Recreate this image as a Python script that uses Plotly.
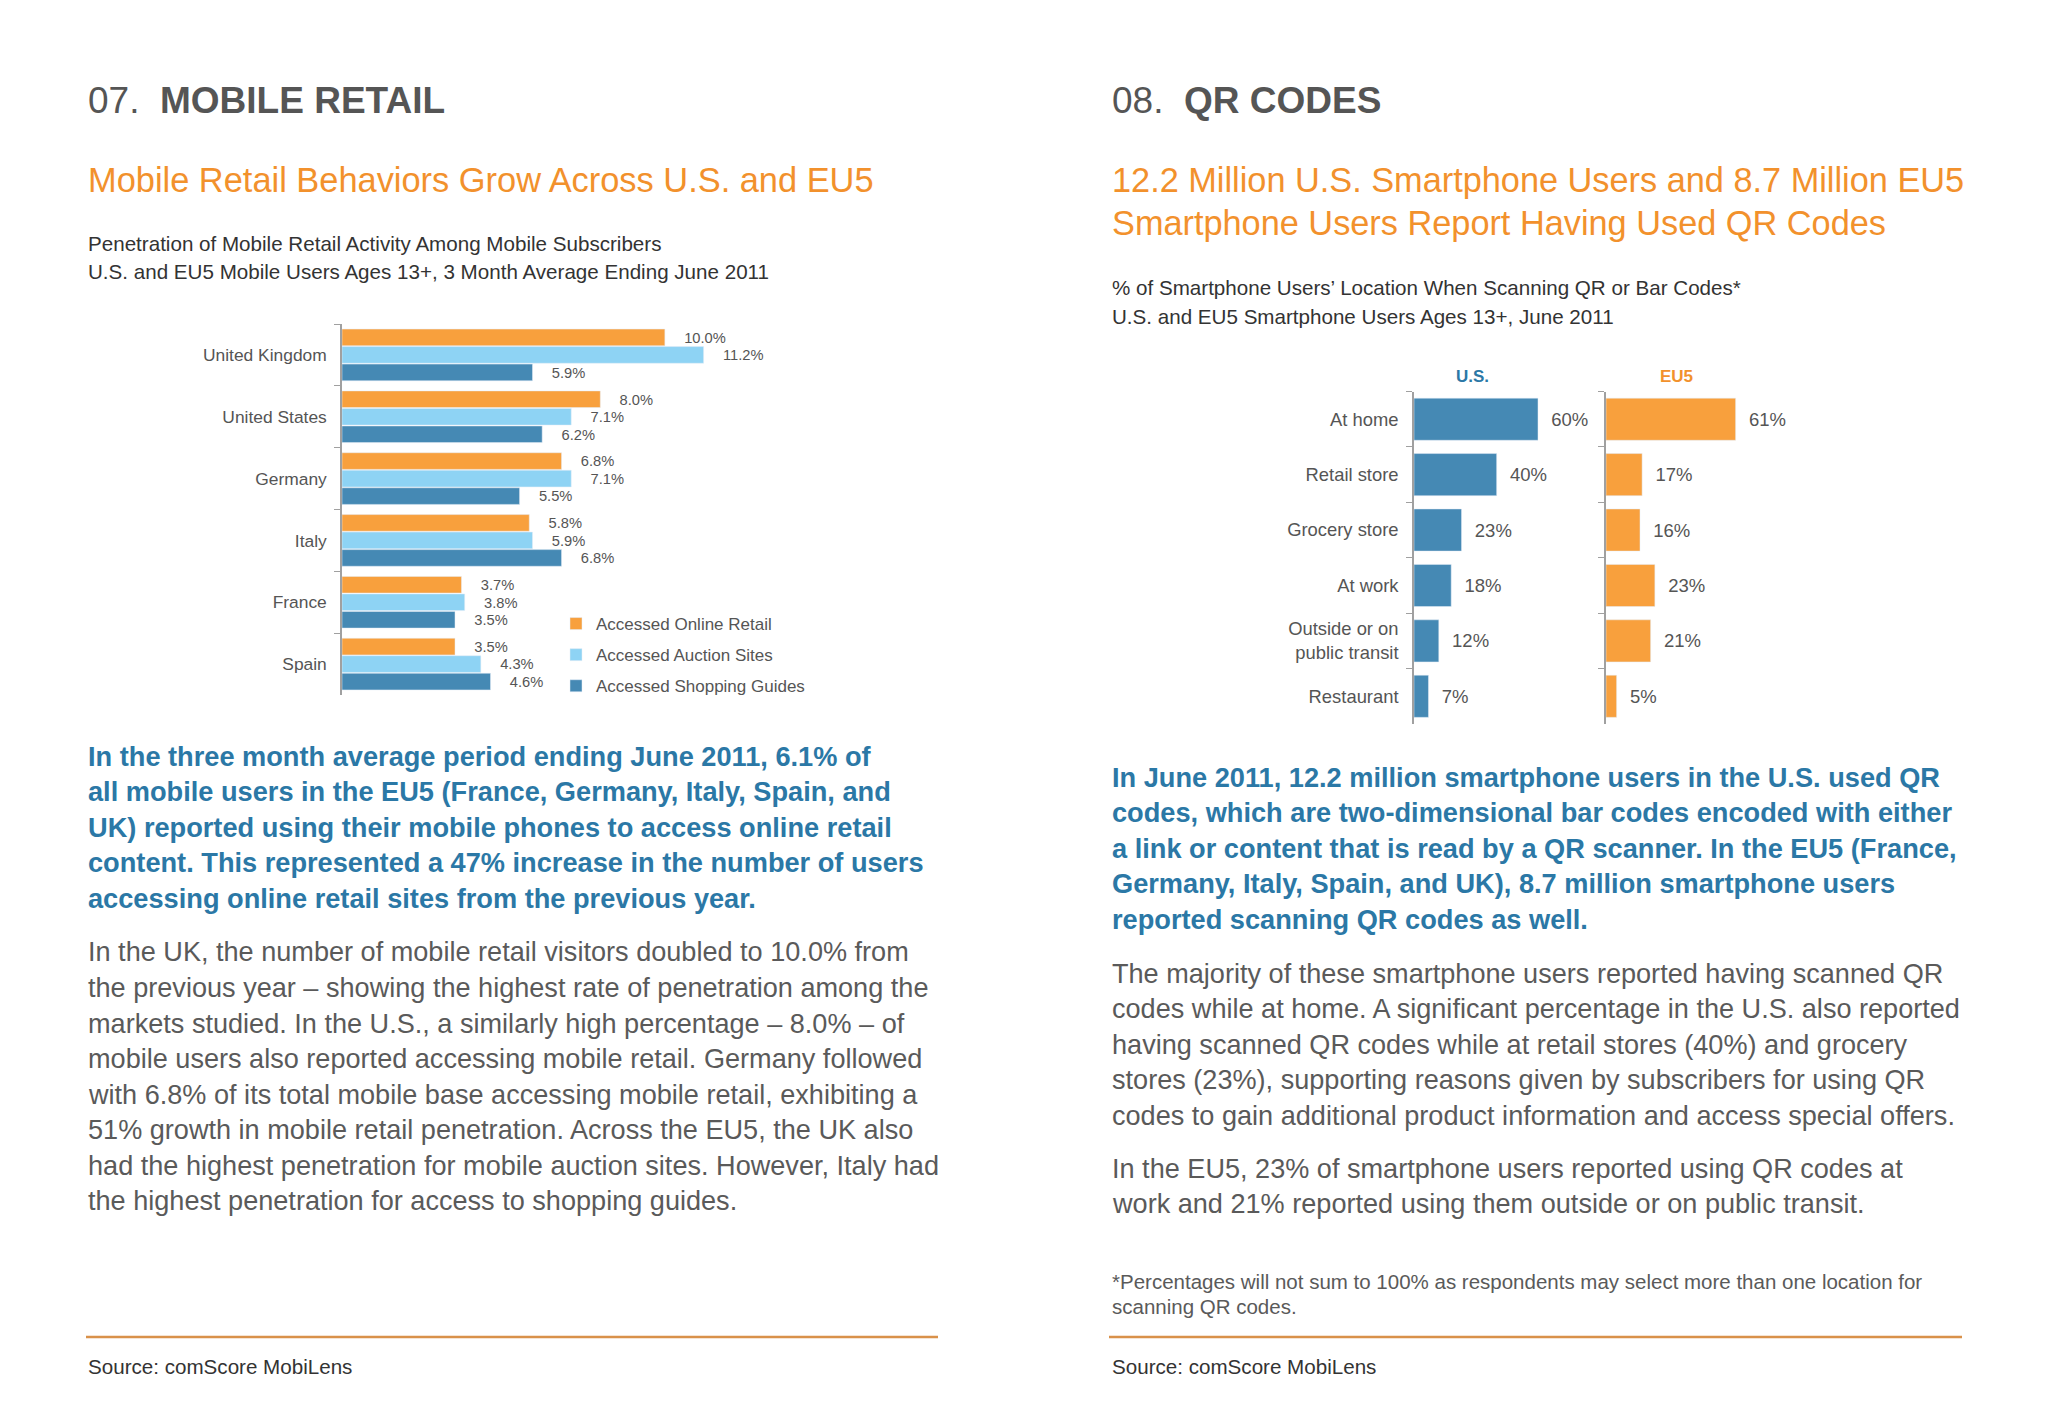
import plotly.graph_objects as go

# page is 2048x1408; the html body has an 8px margin, so the figure is 16px smaller
OFF = 8
FW, FH = 2032, 1392

# ---------------- data ----------------
countries = ["United Kingdom", "United States", "Germany", "Italy", "France", "Spain"]
online_retail = [10.0, 8.0, 6.8, 5.8, 3.7, 3.5]
auction_sites = [11.2, 7.1, 7.1, 5.9, 3.8, 4.3]
shopping_guides = [5.9, 6.2, 5.5, 6.8, 3.5, 4.6]
series_names = ["Accessed Online Retail", "Accessed Auction Sites", "Accessed Shopping Guides"]

locations = ["At home", "Retail store", "Grocery store", "At work",
             "Outside or on<br>public transit", "Restaurant"]
us_pct = [60, 40, 23, 18, 12, 7]
eu5_pct = [61, 17, 16, 23, 21, 5]

# ---------------- style ----------------
FONT = "Liberation Sans"
ORANGE = "#F8A03D"
ORANGE_TXT = "#F2912C"
LBLUE = "#8ED3F4"
DBLUE = "#4589B4"
BLUE_TXT = "#2B78A6"
GRAY = "#555555"
BODY = "#5A5A5A"
AX = "#A0A0A0"


def px(x):
    return (x - OFF) / FW


def py(y):
    return 1 - (y - OFF) / FH


fig = go.Figure()

# chart 1 : grouped horizontal bars
for name, vals, col in zip(series_names, [online_retail, auction_sites, shopping_guides],
                           [ORANGE, LBLUE, DBLUE]):
    fig.add_trace(go.Bar(
        y=countries, x=vals, orientation="h", name=name, marker_color=col,
        text=[f"{v:.1f}%" for v in vals], textposition="outside",
        texttemplate="    %{text}",
        textfont=dict(family=FONT, size=15, color=GRAY), cliponaxis=False,
        xaxis="x", yaxis="y", legendgroup=name,
    ))

# chart 2 : U.S. and EU5
fig.add_trace(go.Bar(
    y=locations, x=us_pct, orientation="h", marker_color=DBLUE, showlegend=False,
    text=[f"{v}%" for v in us_pct], textposition="outside", texttemplate="  %{text}",
    textfont=dict(family=FONT, size=18.5, color=GRAY), cliponaxis=False,
    xaxis="x2", yaxis="y2", width=0.76,
))
fig.add_trace(go.Bar(
    y=locations, x=eu5_pct, orientation="h", marker_color=ORANGE, showlegend=False,
    text=[f"{v}%" for v in eu5_pct], textposition="outside", texttemplate="  %{text}",
    textfont=dict(family=FONT, size=18.5, color=GRAY), cliponaxis=False,
    xaxis="x3", yaxis="y3", width=0.76,
))

hidden_x = dict(showgrid=False, zeroline=False, showticklabels=False, showline=False, ticks="")
cat_y = dict(autorange="reversed", showgrid=False, zeroline=False, showline=True,
             linecolor=AX, linewidth=1.5, ticks="outside", tickson="boundaries",
             ticklen=6, tickcolor=AX)

fig.update_layout(
    width=FW, height=FH, margin=dict(l=0, r=0, t=0, b=0),
    paper_bgcolor="white", plot_bgcolor="rgba(0,0,0,0)",
    barmode="group", bargap=0.15, bargroupgap=0.05,
    font=dict(family=FONT, color=GRAY),
    xaxis=dict(domain=[px(342), px(794)], range=[0, 14], anchor="y", **hidden_x),
    yaxis=dict(domain=[py(695), py(324)], anchor="x", ticklabelstandoff=10,
               tickfont=dict(family=FONT, size=17.4, color=GRAY), **cat_y),
    xaxis2=dict(domain=[px(1414), px(1600)], range=[0, 90], anchor="y2", **hidden_x),
    yaxis2=dict(domain=[py(724), py(391.5)], anchor="x2", ticklabelstandoff=10,
                tickfont=dict(family=FONT, size=18.4, color=GRAY), **cat_y),
    xaxis3=dict(domain=[px(1606), px(1793)], range=[0, 88], anchor="y3", **hidden_x),
    yaxis3=dict(domain=[py(724), py(391.5)], anchor="x3", showticklabels=False, **cat_y),
    legend=dict(x=px(556), y=py(606), xanchor="left", yanchor="top",
                font=dict(family=FONT, size=17, color=GRAY), bgcolor="rgba(0,0,0,0)",
                tracegroupgap=6, itemwidth=30),
)

annotations = []


def text(x, y, s, size, color, bold=False, anchor="left"):
    annotations.append(dict(
        x=px(x), y=py(y), xref="paper", yref="paper", xanchor=anchor, yanchor="middle",
        text=f"<b>{s}</b>" if bold else s, showarrow=False,
        font=dict(family=FONT, size=size, color=color)))


def para(x, y0, lines, size, color, bold=False, step=35.5):
    for i, ln in enumerate(lines):
        text(x, y0 + i * step, ln, size, color, bold)


# headings
text(86, 101, "07.  <b>MOBILE RETAIL</b>", 37, GRAY)
text(1110, 101, "08.  <b>QR CODES</b>", 37, GRAY)
text(86, 180, "Mobile Retail Behaviors Grow Across U.S. and EU5", 34.4, ORANGE_TXT)
para(1110, 180, ["12.2 Million U.S. Smartphone Users and 8.7 Million EU5",
                 "Smartphone Users Report Having Used QR Codes"], 34.3, ORANGE_TXT, step=43)
para(86, 243, ["Penetration of Mobile Retail Activity Among Mobile Subscribers",
               "U.S. and EU5 Mobile Users Ages 13+, 3 Month Average Ending June 2011"],
     20.6, "#333333", step=28.5)
para(1110, 287, ["% of Smartphone Users’ Location When Scanning QR or Bar Codes*",
                 "U.S. and EU5 Smartphone Users Ages 13+, June 2011"], 20.6, "#333333", step=29)

text(1472, 376, "U.S.", 17, BLUE_TXT, bold=True, anchor="center")
text(1676, 376, "EU5", 17, ORANGE_TXT, bold=True, anchor="center")

para(86, 756, ["In the three month average period ending June 2011, 6.1% of",
               "all mobile users in the EU5 (France, Germany, Italy, Spain, and",
               "UK) reported using their mobile phones to access online retail",
               "content. This represented a 47% increase in the number of users",
               "accessing online retail sites from the previous year."],
     27.2, BLUE_TXT, bold=True)
para(86, 952, ["In the UK, the number of mobile retail visitors doubled to 10.0% from",
               "the previous year – showing the highest rate of penetration among the",
               "markets studied. In the U.S., a similarly high percentage – 8.0% – of",
               "mobile users also reported accessing mobile retail. Germany followed",
               "with 6.8% of its total mobile base accessing mobile retail, exhibiting a",
               "51% growth in mobile retail penetration. Across the EU5, the UK also",
               "had the highest penetration for mobile auction sites. However, Italy had",
               "the highest penetration for access to shopping guides."],
     27.1, BODY)
para(1110, 777, ["In June 2011, 12.2 million smartphone users in the U.S. used QR",
                 "codes, which are two-dimensional bar codes encoded with either",
                 "a link or content that is read by a QR scanner. In the EU5 (France,",
                 "Germany, Italy, Spain, and UK), 8.7 million smartphone users",
                 "reported scanning QR codes as well."],
     27.2, BLUE_TXT, bold=True)
para(1110, 973, ["The majority of these smartphone users reported having scanned QR",
                 "codes while at home. A significant percentage in the U.S. also reported",
                 "having scanned QR codes while at retail stores (40%) and grocery",
                 "stores (23%), supporting reasons given by subscribers for using QR",
                 "codes to gain additional product information and access special offers."],
     27.1, BODY)
para(1110, 1168, ["In the EU5, 23% of smartphone users reported using QR codes at",
                  "work and 21% reported using them outside or on public transit."],
     27.1, BODY)
para(1110, 1281, ["*Percentages will not sum to 100% as respondents may select more than one location for",
                  "scanning QR codes."], 20.5, BODY, step=25)
text(86, 1366, "Source: comScore MobiLens", 20.6, "#333333")
text(1110, 1366, "Source: comScore MobiLens", 20.6, "#333333")

fig.update_layout(annotations=annotations, shapes=[
    dict(type="line", xref="paper", yref="paper", x0=px(86), x1=px(938), y0=py(1337), y1=py(1337),
         line=dict(color="#D9914A", width=2.5)),
    dict(type="line", xref="paper", yref="paper", x0=px(1109), x1=px(1962), y0=py(1337), y1=py(1337),
         line=dict(color="#D9914A", width=2.5)),
])

fig.write_html("out.html")
